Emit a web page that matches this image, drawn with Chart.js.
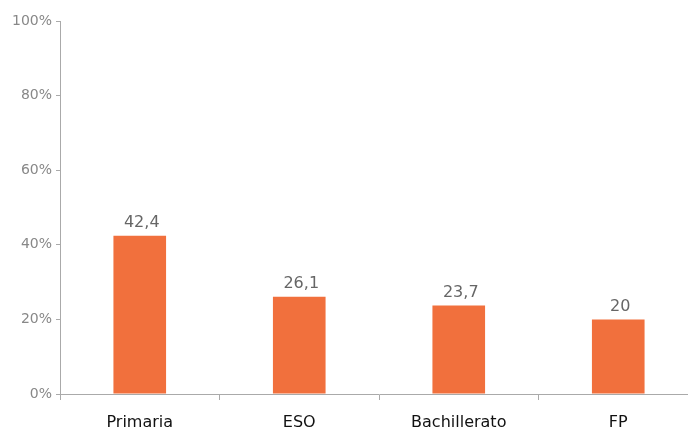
<!DOCTYPE html>
<html>
<head>
<meta charset="utf-8">
<script src="https://cdn.jsdelivr.net/npm/chart.js@4"></script>
<style>
  html, body { margin: 0; padding: 0; background: #fff; overflow: hidden; }
  #wrap { width: 688px; height: 430px; overflow: hidden; }
</style>
</head>
<body>
<div id="wrap"><canvas id="chart" width="698" height="430"></canvas></div>
<script>
// ── Data ────────────────────────────────────────────────────────────────────
const categories = ['Primaria', 'ESO', 'Bachillerato', 'FP'];
const values = [42.4, 26.1, 23.7, 20];
const yTicks = [0, 20, 40, 60, 80, 100];

const FONT = "'DejaVu Sans', Verdana, sans-serif";

// ── Value labels above bars ────────────────────────────────────────────────
const barLabels = {
  id: 'barLabels',
  afterDatasetsDraw(chart) {
    const ctx = chart.ctx;
    const meta = chart.getDatasetMeta(0);
    ctx.save();
    ctx.font = '16px ' + FONT;
    ctx.fillStyle = '#666';
    ctx.textAlign = 'center';
    ctx.textBaseline = 'bottom';
    meta.data.forEach((bar, i) => {
      const txt = String(values[i]).replace('.', ',');
      ctx.fillText(txt, bar.x + 2, bar.y - 5);
    });
    ctx.restore();
  }
};

new Chart(document.getElementById('chart'), {
  type: 'bar',
  data: {
    labels: categories,
    datasets: [{
      data: values,
      backgroundColor: '#f1703d',
      borderWidth: 0,
      categoryPercentage: 1,
      barPercentage: 0.33
    }]
  },
  options: {
    responsive: false,
    animation: false,
    layout: { padding: { top: 21, left: 0, right: 0, bottom: 0 } },
    plugins: { legend: { display: false }, tooltip: { enabled: false } },
    scales: {
      x: {
        grid: { drawOnChartArea: false, tickLength: 6, color: '#aaa' },
        border: { color: '#aaa' },
        ticks: { color: '#111', font: { family: FONT, size: 16 }, padding: 13 },
        afterFit: s => { s.height = 36; }
      },
      y: {
        min: 0, max: 100,
        afterBuildTicks: s => { s.ticks = yTicks.map(v => ({ value: v })); },
        grid: { drawOnChartArea: false, tickLength: 4, color: '#aaa' },
        border: { color: '#aaa' },
        ticks: { color: '#888', font: { family: FONT, size: 14 }, padding: 4, callback: v => v + '%' },
        afterFit: s => { s.width = 60; }
      }
    }
  },
  plugins: [barLabels]
});
</script>
</body>
</html>
